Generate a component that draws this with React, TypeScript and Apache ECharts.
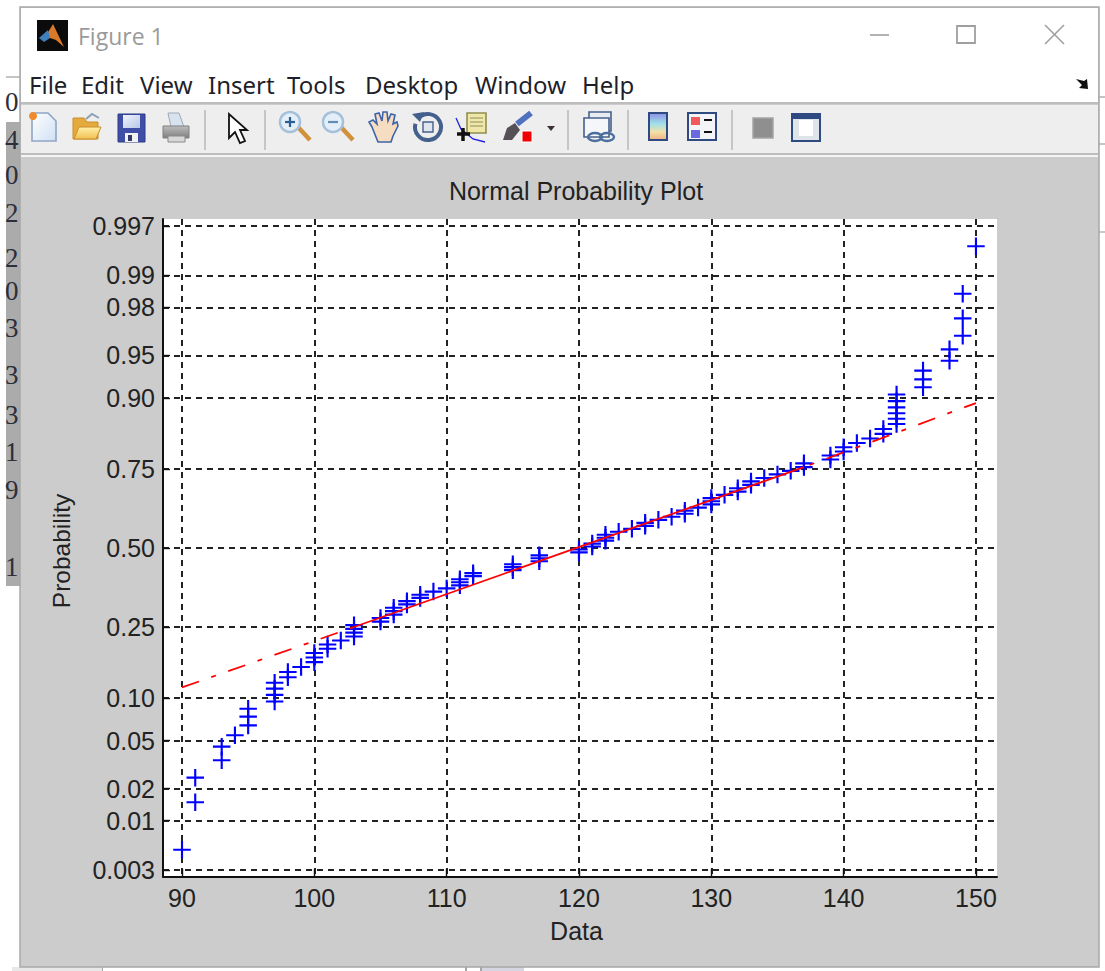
import React, { useEffect, useRef } from "react";
import * as echarts from "echarts";

const dataX = [
  90, 91, 91, 93, 93, 94, 95, 95, 95, 97, 97, 97, 97, 98, 98, 99, 100, 100, 100, 101,
  101, 102, 103, 103, 103, 103, 105, 105, 106, 106, 106, 107, 107, 108, 108, 109, 110, 111, 111, 111,
  112, 112, 115, 115, 115, 117, 117, 117, 120, 120, 121, 121, 122, 122, 122, 123, 124, 125, 125, 126,
  127, 128, 128, 129, 130, 130, 130, 131, 132, 132, 133, 133, 134, 135, 136, 137, 137, 139, 139, 140,
  140, 141, 142, 143, 143, 144, 144, 144, 144, 144, 144, 146, 146, 146, 148, 148, 149, 149, 149, 150,
];
const dataP = [
  0.005, 0.015, 0.025, 0.035, 0.045, 0.055, 0.065, 0.075, 0.085, 0.095, 0.105, 0.115, 0.125, 0.135, 0.145, 0.155, 0.165, 0.175, 0.185, 0.195,
  0.205, 0.215, 0.225, 0.235, 0.245, 0.255, 0.265, 0.275, 0.285, 0.295, 0.305, 0.315, 0.325, 0.335, 0.345, 0.355, 0.365, 0.375, 0.385, 0.395,
  0.405, 0.415, 0.425, 0.435, 0.445, 0.455, 0.465, 0.475, 0.485, 0.495, 0.505, 0.515, 0.525, 0.535, 0.545, 0.555, 0.565, 0.575, 0.585, 0.595,
  0.605, 0.615, 0.625, 0.635, 0.645, 0.655, 0.665, 0.675, 0.685, 0.695, 0.705, 0.715, 0.725, 0.735, 0.745, 0.755, 0.765, 0.775, 0.785, 0.795,
  0.805, 0.815, 0.825, 0.835, 0.845, 0.855, 0.865, 0.875, 0.885, 0.895, 0.905, 0.915, 0.925, 0.935, 0.945, 0.955, 0.965, 0.975, 0.985, 0.995,
];
const lowerLineX = [90, 103];
const lowerLineP = [0.117, 0.25];
const middleLineX = [103, 137];
const middleLineP = [0.25, 0.755];
const upperLineX = [137, 150];
const upperLineP = [0.755, 0.892];
const xTicks = [90, 100, 110, 120, 130, 140, 150];
const yTickLabels = ["0.003", "0.01", "0.02", "0.05", "0.10", "0.25", "0.50", "0.75", "0.90", "0.95", "0.98", "0.99", "0.997"];
const menuItems: [string, number][] = [["File", 29], ["Edit", 81], ["View", 140], ["Insert", 208], ["Tools", 287], ["Desktop", 365], ["Window", 475], ["Help", 582]];
const sideGlyphs: [string, number][] = [["0", 102], ["4", 140], ["0", 175], ["2", 213], ["2", 258], ["0", 291], ["3", 328], ["3", 375], ["3", 415], ["1", 452], ["9", 490], ["1", 567]];

// Inverse normal CDF: the vertical scale of a normal probability plot.
function probit(p: number): number {
  const a = [-39.69683028665376, 220.9460984245205, -275.9285104469687, 138.357751867269, -30.66479806614716, 2.506628277459239];
  const b = [-54.47609879822406, 161.5858368580409, -155.6989798598866, 66.80131188771972, -13.28068155288572];
  const c = [-0.007784894002430293, -0.3223964580411365, -2.400758277161838, -2.549732539343734, 4.374664141464968, 2.938163982698783];
  const d = [0.007784695709041462, 0.3224671290700398, 2.445134137142996, 3.754408661907416];
  const tail = (q: number) => (((((c[0] * q + c[1]) * q + c[2]) * q + c[3]) * q + c[4]) * q + c[5]) / ((((d[0] * q + d[1]) * q + d[2]) * q + d[3]) * q + 1);
  if (p < 0.02425) return tail(Math.sqrt(-2 * Math.log(p)));
  if (p > 1 - 0.02425) return -tail(Math.sqrt(-2 * Math.log(1 - p)));
  const q = p - 0.5;
  const r = q * q;
  return ((((((a[0] * r + a[1]) * r + a[2]) * r + a[3]) * r + a[4]) * r + a[5]) * q) / (((((b[0] * r + b[1]) * r + b[2]) * r + b[3]) * r + b[4]) * r + 1);
}

const LG = (x1: number, y1: number, x2: number, y2: number, stops: [number, string][]) =>
  new echarts.graphic.LinearGradient(x1, y1, x2, y2, stops.map(([offset, color]) => ({ offset, color })));

const rect = (x: number, y: number, width: number, height: number, fill: any, stroke?: string, lineWidth = 1) => ({
  type: "rect", shape: { x, y, width, height }, style: { fill, stroke, lineWidth },
});
const line = (x1: number, y1: number, x2: number, y2: number, stroke: string, lineWidth = 1) => ({
  type: "line", shape: { x1, y1, x2, y2 }, style: { stroke, lineWidth, fill: "none" },
});
const poly = (points: number[][], fill: any, stroke?: string, lineWidth = 1) => ({
  type: "polygon", shape: { points }, style: { fill, stroke, lineWidth },
});
const pline = (points: number[][], stroke: string, lineWidth = 1) => ({
  type: "polyline", shape: { points }, style: { fill: "none", stroke, lineWidth },
});
const circle = (cx: number, cy: number, r: number, fill: any, stroke?: string, lineWidth = 1) => ({
  type: "circle", shape: { cx, cy, r }, style: { fill, stroke, lineWidth },
});
const label = (text: string, x: number, y: number, font: string, fill: string) => ({
  type: "text", style: { text, x, y, font, fill, verticalAlign: "middle", align: "left" },
});

function magnifier(cx: number, sign: boolean) {
  const els: any[] = [
    line(cx + 7, 126, cx + 20, 140, "#d0913a", 4.5),
    circle(cx, 122, 10, "#e3eef8", "#a4c0da", 2.5),
    line(cx - 5, 122, cx + 5, 122, sign ? "#2b5f93" : "#5f8db5", 2.2),
  ];
  if (sign) els.push(line(cx, 117, cx, 127, "#2b5f93", 2.2));
  return els;
}

function chrome(): any[] {
  const els: any[] = [
    // what lies behind the window
    rect(6, 122, 14, 464, "#ababab"),
    rect(0, 0, 1105, 7, "#ffffff"),
    line(6, 77, 20, 77, "#c4c4c4", 2),
    line(1099, 97, 1105, 97, "#c4c4c4", 2),
    line(1099, 144, 1105, 144, "#c4c4c4", 2),
    line(1099, 232, 1105, 232, "#c9c9c9", 2),
    line(102, 967, 102, 971, "#888888", 1.5),
    line(466, 967, 466, 971, "#888888", 1.5),
    line(481, 967, 481, 971, "#888888", 1.5),
    rect(482, 967, 42, 4, "#d6d6e2"),
    rect(12, 967, 90, 4, "#e8e8e8"),
    ...sideGlyphs.map(([t, y]) => label(t, 5, y, '27px "Liberation Serif"', "#2b2f3a")),
    // window
    rect(20, 7, 1079, 960, "#cccccc", "#a8a8a8", 1.5),
    rect(21, 8, 1077, 94, "#ffffff"),
    rect(21, 102, 1077, 2, "#bdbdbd"),
    rect(21, 105, 1077, 48, "#eeeeee"),
    rect(21, 153, 1077, 2, "#bdbdbd"),
    rect(21, 155, 1077, 2, "#f4f4f4"),
    // title bar
    rect(37, 20, 31, 31, "#0b0b0b"),
    poly([[53, 24], [64, 47], [56, 40], [50, 38], [44, 39]], "#d9792a"),
    poly([[39, 38], [48, 30], [50, 38], [44, 42]], "#3f7fbf"),
    label("Figure 1", 78, 36, '23px "Open Sans"', "#9a9a9a"),
    line(870, 35, 889, 35, "#9f9f9f", 1.6),
    rect(957, 26, 18, 17, "none", "#9f9f9f", 1.8),
    line(1045, 25, 1064, 44, "#9f9f9f", 1.6),
    line(1064, 25, 1045, 44, "#9f9f9f", 1.6),
    ...menuItems.map(([t, x]) => label(t, x, 84, '24px "Noto Sans"', "#1f1f2a")),
    poly([[1076, 79], [1084, 81], [1087, 79], [1088, 89], [1079, 88], [1082, 85]], "#111111"),
    // toolbar separators
    ...[205, 265, 568, 628, 732].map((x) => line(x, 110, x, 150, "#bcbcbc", 1.6)),
    // new file
    poly([[32, 113], [48, 113], [56, 121], [56, 141], [32, 141]], LG(0, 0, 1, 1, [[0, "#ffffff"], [1, "#cfe0f4"]]), "#8ea6c6", 1.6),
    circle(33, 116, 4, "#f08a2c"),
    // open folder
    poly([[73, 118], [84, 118], [87, 122], [98, 122], [98, 139], [73, 139]], "#e5aa3e", "#c98e2b", 1),
    poly([[74, 139], [79, 127], [101, 127], [96, 139]], LG(0, 0, 0, 1, [[0, "#fff0a8"], [1, "#f0c050"]]), "#c98e2b", 1),
    pline([[86, 119], [92, 114], [99, 118]], "#8aa0b4", 2),
    // floppy
    rect(118, 114, 27, 28, "#3f4fa8", "#2c3a85", 1),
    rect(123, 115, 17, 13, LG(0, 0, 1, 1, [[0, "#f0f4fb"], [1, "#b8c8e8"]])),
    rect(125, 133, 13, 9, "#f2f2f2"),
    rect(128, 135, 4, 6, "#333b66"),
    // printer
    poly([[168, 113], [179, 113], [184, 127], [171, 127]], "#d7e3ef", "#9eaab6", 1),
    rect(163, 126, 26, 12, LG(0, 0, 0, 1, [[0, "#bdbdbd"], [1, "#7f7f7f"]]), "#808080", 1),
    rect(168, 136, 17, 6, "#d8d8d8", "#8a8a8a", 1),
    // pointer
    poly([[229, 114], [229, 138], [235, 132], [240, 143], [245, 141], [240, 130], [247, 130]], "#ffffff", "#111111", 1.8),
    // zoom in, zoom out
    ...magnifier(290, true),
    ...magnifier(333, false),
    // hand
    poly([[372, 127], [369, 122], [373, 120], [377, 124], [375, 114], [379, 113], [382, 121], [383, 112], [387, 112], [388, 121], [391, 114], [395, 115], [393, 124], [397, 122], [398, 126], [393, 136], [391, 142], [378, 142]], "#f6dcc0", "#3c64a8", 1.6),
    // rotate 3D
    { type: "arc", shape: { cx: 428, cy: 127, r: 13, startAngle: -2.4, endAngle: 3.4 }, style: { fill: "none", stroke: "#44608c", lineWidth: 4 } },
    poly([[412, 114], [424, 112], [420, 122]], "#44608c"),
    rect(423, 122, 10, 10, "#dfe6ef", "#44608c", 1.4),
    // data cursor
    rect(467, 113, 19, 20, "#f0e6a8", "#8f8f4f", 1.6),
    ...[118, 122, 126].map((y) => line(470, y, 483, y, "#9c9c6a", 1.2)),
    pline([[456, 118], [461, 129], [473, 139], [485, 142]], "#2020e0", 1.3),
    line(463, 128, 463, 141, "#111111", 3.5),
    line(457, 134, 470, 134, "#111111", 3.5),
    // brush
    line(517, 124, 531, 113, "#5070c0", 6),
    poly([[503, 140], [507, 128], [515, 123], [520, 130], [512, 140]], "#555055"),
    rect(522, 131, 10, 11, "#f00000", "#ffffff", 1),
    poly([[547, 126], [555, 126], [551, 131]], "#3b3038"),
    // link
    rect(589, 112, 22, 19, "#e8ecf2", "#47608a", 1.6),
    rect(584, 118, 25, 19, "#f4f6fa", "#47608a", 1.6),
    { type: "ellipse", shape: { cx: 595, cy: 137, rx: 7, ry: 4 }, style: { fill: "none", stroke: "#4a6f9e", lineWidth: 2.4 } },
    { type: "ellipse", shape: { cx: 607, cy: 137, rx: 7, ry: 4 }, style: { fill: "none", stroke: "#4a6f9e", lineWidth: 2.4 } },
    // colorbar
    rect(649, 113, 18, 27, LG(0, 0, 0, 1, [[0, "#8d8fe8"], [0.4, "#9fe0e8"], [0.7, "#f2e2a8"], [1, "#f0b080"]]), "#2f4a80", 2),
    // legend
    rect(688, 113, 28, 27, "#f2f4f8", "#2f4a80", 2),
    rect(691, 117, 9, 8, "#f05a5a"),
    rect(691, 130, 9, 8, "#6a6ae0"),
    line(704, 120, 712, 120, "#111111", 2),
    line(704, 132, 712, 132, "#111111", 2),
    // hide plot tools, show plot tools
    rect(753, 118, 20, 20, "#8f8f8f", "#a5a5a5", 1.5),
    rect(792, 114, 28, 27, "#dfe4ea", "#2f4a80", 2),
    rect(792, 114, 28, 5, "#2f4a80"),
    rect(799, 120, 14, 16, "#ffffff"),
  ];
  return els.map((e) => ({ ...e, silent: true, z: -10 }));
}

export default function App() {
  const ref = useRef<HTMLDivElement>(null);
  useEffect(() => {
    document.body.style.margin = "0";
    document.body.style.background = "#ffffff";
    const chart = echarts.init(ref.current!, null, { renderer: "svg" });
    const font = '"Liberation Sans", Arial, sans-serif';
    const toSeries = (xs: number[], ps: number[]) => xs.map((x, i) => [x, probit(ps[i])]);
    const redLine = (xs: number[], ps: number[], type: any, dashOffset = 0) => ({
      type: "line",
      data: toSeries(xs, ps),
      showSymbol: false,
      symbol: "none",
      z: 5,
      lineStyle: { color: "#ff0000", width: 1.8, type, dashOffset },
    });
    chart.setOption({
      animation: false,
      backgroundColor: "#ffffff",
      title: {
        text: "Normal Probability Plot",
        left: 571,
        top: 173,
        textAlign: "center",
        textStyle: { fontFamily: font, fontSize: 25, fontWeight: "normal", color: "#222222" },
      },
      graphic: { elements: chrome() },
      grid: { left: 163, right: 108, top: 219, bottom: 94, show: true, backgroundColor: "#ffffff", borderWidth: 0 },
      xAxis: {
        type: "value",
        min: 88.564,
        max: 151.59,
        name: "Data",
        nameLocation: "middle",
        nameGap: 41,
        nameTextStyle: { fontFamily: font, fontSize: 25, color: "#222222", padding: [0, 7, 0, 0] },
        axisLine: { onZero: false, lineStyle: { color: "#111111", width: 2 } },
        axisTick: { inside: true, length: 8, customValues: xTicks, lineStyle: { color: "#111111", width: 1.4 } },
        axisLabel: { customValues: xTicks, margin: 8, fontFamily: font, fontSize: 25, color: "#222222", hideOverlap: false, showMinLabel: true, showMaxLabel: true },
        splitLine: { show: true, lineStyle: { color: "#222222", width: 2, type: [6, 5] } },
      },
      yAxis: {
        type: "value",
        min: -2.808,
        max: 2.808,
        name: "Probability",
        nameLocation: "middle",
        nameRotate: 90,
        nameGap: 89,
        nameTextStyle: { fontFamily: font, fontSize: 24.5, color: "#222222", padding: [0, 6, 0, 0] },
        axisLine: { onZero: false, lineStyle: { color: "#111111", width: 2 } },
        axisTick: { inside: true, length: 7, customValues: yTickLabels.map((t) => probit(Number(t))), lineStyle: { color: "#111111", width: 1.4 } },
        axisLabel: {
          customValues: yTickLabels.map((t) => probit(Number(t))),
          margin: 8,
          fontFamily: font,
          fontSize: 25,
          color: "#222222",
          hideOverlap: false,
          showMinLabel: true,
          showMaxLabel: true,
          formatter: (v: number) => {
            let best = yTickLabels[0];
            for (const t of yTickLabels) if (Math.abs(probit(Number(t)) - v) < Math.abs(probit(Number(best)) - v)) best = t;
            return best;
          },
        },
        splitLine: { show: true, lineStyle: { color: "#222222", width: 2, type: [6, 5] } },
      },
      series: [
        {
          type: "scatter",
          data: toSeries(dataX, dataP),
          symbol: "path://M7.9,0H10.1V7.9H18V10.1H10.1V18H7.9V10.1H0V7.9H7.9Z",
          symbolSize: 17.5,
          itemStyle: { color: "#0000ff", opacity: 1 },
          z: 4,
        },
        redLine(lowerLineX, lowerLineP, [18, 13, 5, 13]),
        redLine(middleLineX, middleLineP, "solid"),
        redLine(upperLineX, upperLineP, [18, 13, 5, 13], 24.6),
      ],
    });
    return () => chart.dispose();
  }, []);
  return <div ref={ref} style={{ width: 1105, height: 971 }} />;
}
